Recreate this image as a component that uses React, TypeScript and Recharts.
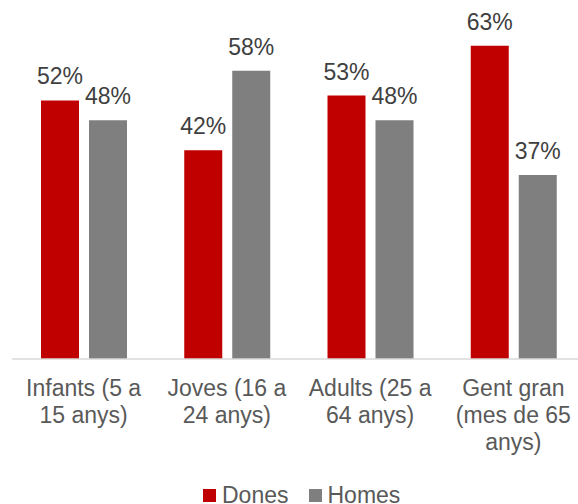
import React from 'react'
import { BarChart, Bar, XAxis, YAxis, LabelList } from 'recharts'

const categories = ['Infants (5 a\n15 anys)', 'Joves (16 a\n24 anys)', 'Adults (25 a\n64 anys)', 'Gent gran\n(mes de 65\nanys)']
const dones = [52, 42, 53, 63]
const homes = [48, 58, 48, 37]

const data = categories.map((c, i) => ({ name: c, Dones: dones[i], Homes: homes[i] }))

const FONT = '"Liberation Sans", Arial, sans-serif'

const CategoryTick = (props: any) => {
  const { x, y, payload } = props
  const lines = String(payload.value).split('\n')
  return (
    <text x={x} y={y + 36.5} textAnchor="middle" fill="#595959" fontSize={23} fontFamily={FONT}>
      {lines.map((l, i) => (
        <tspan key={i} x={x} dy={i === 0 ? 0 : 27.4}>{l}</tspan>
      ))}
    </text>
  )
}

export default function App() {
  return (
    <div style={{ position: 'absolute', left: 0, top: 0, width: 578, height: 504, overflow: 'hidden', background: '#fff', fontFamily: FONT }}>
      <BarChart
        width={600}
        height={504}
        data={data}
        margin={{ top: 11, right: 15, bottom: 0, left: 12 }}
        barSize={38}
        barGap={10}
      >
        <XAxis
          dataKey="name"
          height={145}
          interval={0}
          tickLine={false}
          tickSize={0}
          tickMargin={0}
          axisLine={{ stroke: '#D9D9D9', strokeWidth: 1.5 }}
          tick={<CategoryTick />}
        />
        <YAxis hide domain={[0, 70]} />
        <Bar dataKey="Dones" fill="#C00000" isAnimationActive={false}>
          <LabelList dataKey="Dones" position="top" offset={16} fill="#404040" fontSize={23} fontFamily={FONT} formatter={(v: any) => `${v}%`} />
        </Bar>
        <Bar dataKey="Homes" fill="#7F7F7F" isAnimationActive={false}>
          <LabelList dataKey="Homes" position="top" offset={16} fill="#404040" fontSize={23} fontFamily={FONT} formatter={(v: any) => `${v}%`} />
        </Bar>
      </BarChart>
      <div style={{ position: 'absolute', left: 203, top: 482, display: 'flex', alignItems: 'center', fontSize: 23, color: '#595959', lineHeight: '26px', whiteSpace: 'nowrap' }}>
        <span style={{ display: 'inline-block', width: 13, height: 13, background: '#C00000', marginRight: 6 }} />
        <span style={{ marginRight: 21 }}>Dones</span>
        <span style={{ display: 'inline-block', width: 13, height: 13, background: '#7F7F7F', marginRight: 5 }} />
        <span>Homes</span>
      </div>
    </div>
  )
}
